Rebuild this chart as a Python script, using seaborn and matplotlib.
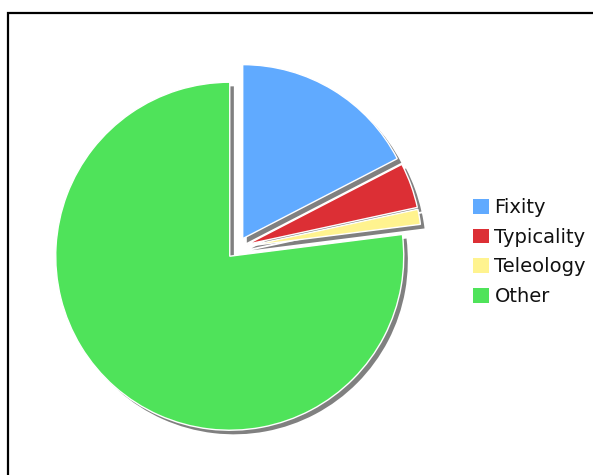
import matplotlib
matplotlib.use("Agg")
import matplotlib.pyplot as plt
import seaborn as sns
from matplotlib.patches import Rectangle

sns.set_theme(style="white")
plt.rcParams['font.family'] = ['DejaVu Sans']

categories = ["Fixity", "Typicality", "Teleology", "Other"]
values = [17.4, 4.2, 1.4, 77.0]
colors = ["#60AAFF", "#DC2F35", "#FFF38F", "#4FE35A"]

W, H = 593, 475
fig = plt.figure(figsize=(W / 100, H / 100), dpi=100)
fig.patch.set_facecolor("white")

cx, cy, half = 237, 248, 200
ax = fig.add_axes([(cx - half) / W, (H - cy - half) / H, 2 * half / W, 2 * half / H])
r_px = 174
lim = half / r_px
ax.set_xlim(-lim, lim)
ax.set_ylim(-lim, lim)
ax.set_aspect("auto")

wedges, _ = ax.pie(values, colors=colors, startangle=90, counterclock=False,
                   explode=[0.063] * 4,
                   wedgeprops=dict(edgecolor="white", linewidth=1),
                   shadow=dict(ox=0.017, oy=-0.017, facecolor="#808080", edgecolor="none", alpha=1),
                   frame=False)
ax.set_xlim(-lim, lim)
ax.set_ylim(-lim, lim)
ax.axis("off")

leg = fig.legend(wedges, categories, loc="upper left",
                 bbox_to_anchor=(473 / W, 1 - 198 / H),
                 frameon=False, fontsize=14, handlelength=0.8, handleheight=0.8,
                 handletextpad=0.3, labelspacing=0.55, borderpad=0, borderaxespad=0)
for t in leg.get_texts():
    t.set_color("#111111")
for h in leg.legend_handles:
    h.set_edgecolor("none")

fig.patches.append(Rectangle((8 / W, -0.1), 1.2, 1 - 13 / H + 0.1, transform=fig.transFigure,
                             fill=False, edgecolor="black", linewidth=1.6, figure=fig))

fig.savefig("out.png", dpi=100)
